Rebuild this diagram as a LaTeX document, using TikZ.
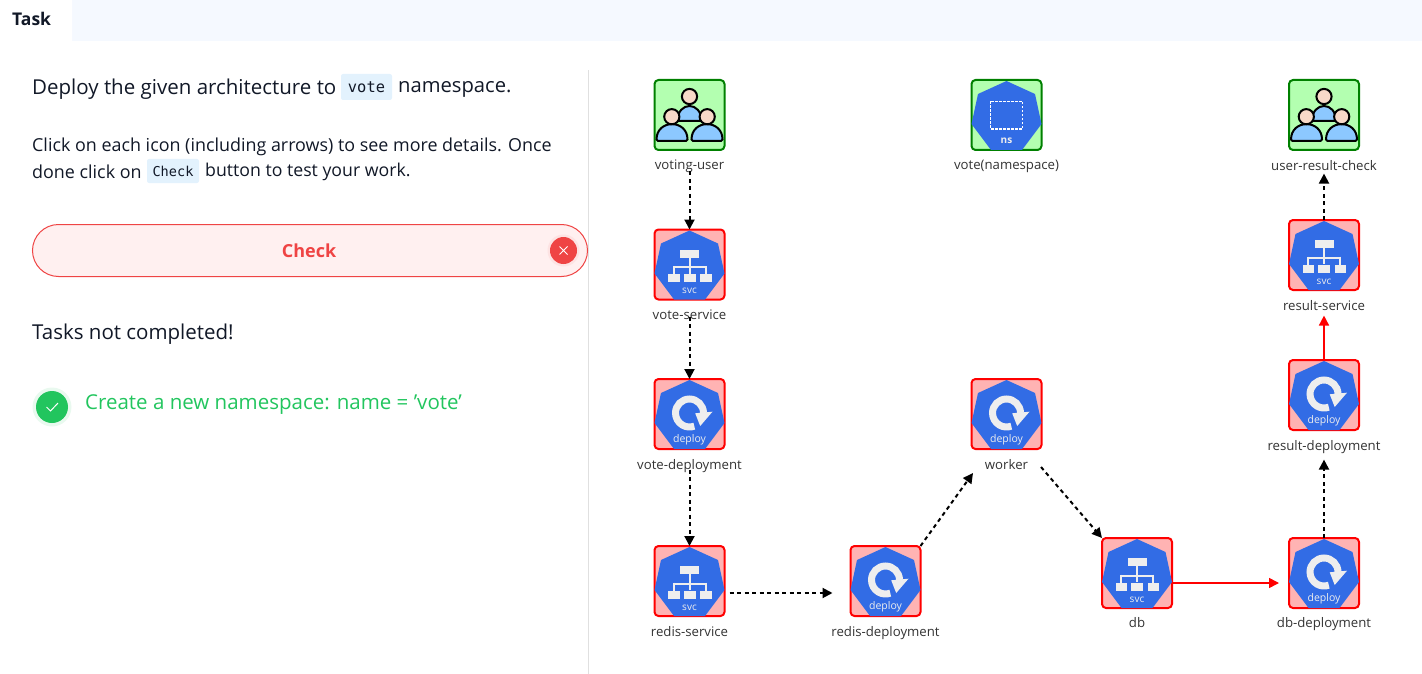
\documentclass[tikz,border=0pt]{standalone}
\usepackage{fontspec}
\setmainfont{Open Sans}
\setmonofont{DejaVu Sans Mono}
\usepackage{xcolor}
\usetikzlibrary{positioning,arrows.meta}

\definecolor{k8sblue}{HTML}{326CE5}
\definecolor{iconwhite}{HTML}{EEEEEE}
\definecolor{okfill}{HTML}{B3FFB0}
\definecolor{okline}{HTML}{008000}
\definecolor{badfill}{HTML}{FFB3B3}
\definecolor{failred}{HTML}{EF4444}
\definecolor{passgreen}{HTML}{22C55E}
\definecolor{inktext}{HTML}{111827}
\definecolor{tabbar}{HTML}{F5F9FF}
\definecolor{chipfill}{HTML}{E3F2FD}
\definecolor{bodyblue}{HTML}{8CC8FF}
\definecolor{headpink}{HTML}{F8D9C8}

\tikzset{
    heptagon/.pic={
        \fill[k8sblue] (0,-34) -- (28.5,-21) -- (35,9) -- (15.5,35) -- (-15.5,35) -- (-35,9) -- (-28.5,-21) -- cycle;
    },
    svcicon/.pic={
        \pic {heptagon};
        \draw[iconwhite, line width=2pt] (0,-9) -- (0,9) (-16,2.5) -- (16,2.5) (-16,1.5) -- (-16,10) (16,1.5) -- (16,10);
        \fill[iconwhite] (-9.5,-15) rectangle (9.5,-7);
        \fill[iconwhite] (-21.5,9.5) rectangle (-10,17.5);
        \fill[iconwhite] (-6,9.5) rectangle (6,17.5);
        \fill[iconwhite] (10.5,9.5) rectangle (22,17.5);
        \node[icontext] (svctext) at (0,26.5) {svc};
    },
    deployicon/.pic={
        \pic {heptagon};
        \draw[iconwhite, line width=7pt] (14,-1) arc[start angle=0, end angle=290, radius=14pt];
        \fill[iconwhite] (5.7,-0.7) -- (23,-2.3) -- (10.7,12) -- cycle;
        \node[icontext, font=\fontsize{10.5}{12}\selectfont] (deploytext) at (0,25.5) {deploy};
    },
    nsicon/.pic={
        \pic {heptagon};
        \draw[white, line width=1.7pt, dash pattern=on 2.5pt off 1.5pt] (-16,-13.5) rectangle (16,14);
        \node[icontext, font=\fontsize{10}{12}\selectfont\bfseries] (nstext) at (0,25.5) {ns};
    },
    usersicon/.pic={
        \begin{scope}[draw=black, line width=2pt]
            \filldraw[fill=bodyblue] (-12,6) .. controls (-12,-14) and (12,-14) .. (12,6) -- cycle;
            \filldraw[fill=headpink] (0,-18.5) circle (7.6pt);
            \filldraw[fill=bodyblue, rounded corners=1.5pt] (-33,26) .. controls (-33,4) and (-2,4) .. (-2,26) -- cycle;
            \filldraw[fill=bodyblue, rounded corners=1.5pt] (2,26) .. controls (2,4) and (33,4) .. (33,26) -- cycle;
            \filldraw[fill=headpink] (-17.7,1.7) circle (7.6pt);
            \filldraw[fill=headpink] (17.7,1.7) circle (7.6pt);
        \end{scope}
    }
}

\begin{document}
\begin{tikzpicture}[
    x=1pt, y=-1pt,
    icontext/.style={text=iconwhite, inner sep=0pt, font=\fontsize{10}{11}\selectfont},
    okbox/.style={rectangle, draw=okline, fill=okfill, line width=2pt, rounded corners=4pt, minimum size=70pt, inner sep=0pt, outer sep=0pt},
    badbox/.style={okbox, draw=red, fill=badfill},
    caption/.style={inner sep=0pt, text=black!80, font=\fontsize{13.2}{16}\selectfont},
    bodytext/.style={anchor=west, inner sep=0pt, text=inktext, font=\fontsize{20.5}{24}\selectfont},
    smalltext/.style={bodytext, font=\fontsize{17.9}{21}\selectfont},
    codechip/.style={rectangle, fill=chipfill, rounded corners=2pt, inner sep=0pt, text=inktext},
    dasharrow/.style={-{Triangle[length=10pt,width=10pt]}, line width=2pt, dash pattern=on 4pt off 3.5pt},
    redarrow/.style={-{Triangle[length=10pt,width=10pt]}, draw=red, line width=1.6pt}
]
    \useasboundingbox (0,0) rectangle (1422,674);

    % task panel
    \fill[tabbar] (60,0) rectangle (1422,41);
    \fill[white, rounded corners=4pt] (0,-8) rectangle (72,50);
    \node[bodytext, font=\fontsize{17.5}{20}\selectfont\bfseries] (tasktab) at (12,19) {Task};
    \draw[black!12] (588,70) coordinate (ruletop) -- (588,674);

    \node[bodytext] (deployline) at (32,89) {Deploy the given architecture to};
    \node[codechip, minimum width=51pt, minimum height=26pt, font=\fontsize{15.4}{18}\ttfamily] (votechip) at (366.5,87) {vote};
    \node[bodytext, font=\fontsize{20.2}{24}\selectfont] (nsword) at (398,89) {namespace.};
    \node[smalltext] (clickline) at (32,147) {Click on each icon (including arrows) to see more details. Once};
    \node[smalltext] (doneline) at (32,171.5) {done click on};
    \node[codechip, minimum width=52pt, minimum height=24pt, font=\fontsize{13.6}{16}\ttfamily] (checkchip) at (173,171) {Check};
    \node[smalltext, font=\fontsize{17.7}{21}\selectfont] (testline) at (205,171.5) {button to test your work.};

    \node[rectangle, draw=failred, line width=1pt, fill=red!6, rounded corners=26pt, minimum width=555pt, minimum height=52pt, inner sep=0pt] (checkbtn) at (310,250.5) {};
    \node[inner sep=0pt, text=failred, font=\fontsize{18}{22}\selectfont\bfseries] (checkword) at (309,251) {Check};
    \node[circle, fill=failred!15, minimum size=32pt, inner sep=0pt] (crosshalo) at (563.5,250.5) {};
    \node[circle, fill=failred, minimum size=27pt, inner sep=0pt] (crossdot) at (563.5,250.5) {};
    \draw[white, line width=1pt] (559.5,246.5) -- (567.5,254.5) (567.5,246.5) -- (559.5,254.5);

    \node[bodytext] (notdone) at (32,334) {Tasks not completed!};
    \node[circle, fill=passgreen!10, minimum size=39pt, inner sep=0pt] (tickhalo) at (52,407) {};
    \node[circle, fill=passgreen, minimum size=32pt, inner sep=0pt] (tickdot) at (52,407) {};
    \draw[white, line width=1pt] (46.5,407) -- (50.5,411) -- (58,403);
    \node[bodytext, text=passgreen] (nstask) at (85,405) {Create a new namespace: name = 'vote'};

    % left column
    \node[okbox] (voter) at (689.5,115) {};
    \node[badbox, below=79.5pt of voter] (votesvc) {};
    \node[badbox, below=79.5pt of votesvc] (votedep) {};
    \node[badbox, below=97pt of votedep] (redissvc) {};
    \node[badbox, right=126pt of redissvc] (redisdep) {};

    % middle and right columns
    \node[okbox] (nsbox) at (1006.5,115) {};
    \node[badbox] (worker) at (1006.5,414) {};
    \node[badbox] (dbsvc) at (1137,573) {};
    \node[badbox, right=117pt of dbsvc] (dbdep) {};
    \node[badbox, above=108pt of dbdep] (resultdep) {};
    \node[badbox, above=70pt of resultdep] (resultsvc) {};
    \node[okbox] (checker) at (1324,115) {};

    \pic at (voter) {usersicon};
    \pic at (checker) {usersicon};
    \pic at (nsbox) {nsicon};
    \pic at (votesvc) {svcicon};
    \pic at (redissvc) {svcicon};
    \pic at (dbsvc) {svcicon};
    \pic at (resultsvc) {svcicon};
    \pic at (votedep) {deployicon};
    \pic at (redisdep) {deployicon};
    \pic at (dbdep) {deployicon};
    \pic at (resultdep) {deployicon};
    \pic at (worker) {deployicon};

    \node[caption, below=10pt of voter] (voterlbl) {voting-user};
    \node[caption, below=10pt of nsbox] (nslbl) {vote(namespace)};
    \node[caption, below=10pt of checker] (checkerlbl) {user-result-check};
    \node[caption, below=10pt of votesvc] (votesvclbl) {vote-service};
    \node[caption, below=10pt of votedep] (votedeplbl) {vote-deployment};
    \node[caption, below=10.5pt of redissvc] (redissvclbl) {redis-service};
    \node[caption, below=10.5pt of redisdep] (redisdeplbl) {redis-deployment};
    \node[caption, below=10pt of worker] (workerlbl) {worker};
    \node[caption, below=9pt of dbsvc] (dbsvclbl) {db};
    \node[caption, below=9pt of dbdep] (dbdeplbl) {db-deployment};
    \node[caption, below=10pt of resultdep] (resultdeplbl) {result-deployment};
    \node[caption, below=10pt of resultsvc] (resultsvclbl) {result-service};

    \coordinate (workerin) at (973,473);
    \coordinate (workerout) at (1041,467);

    \draw[dasharrow] ([yshift=2pt]voterlbl.south) -- (votesvc.north);
    \draw[dasharrow] ([yshift=3pt]votesvclbl.south) -- (votedep.north);
    \draw[dasharrow] ([yshift=3pt]votedeplbl.south) -- (redissvc.north);
    \draw[dasharrow, shorten <=5pt, shorten >=18pt] (redissvc.east |- 0,593) -- (redisdep.west |- 0,593);
    \draw[dasharrow] (redisdep.north east) -- (workerin);
    \draw[dasharrow] (workerout) -- (dbsvc.north west);
    \draw[redarrow, shorten >=10pt] (dbsvc.east |- 0,583) -- (dbdep.west |- 0,583);
    \draw[dasharrow, shorten >=6pt] (dbdep.north) -- (resultdeplbl.south);
    \draw[redarrow, shorten >=5pt] (resultdep.north) -- (resultsvclbl.south);
    \draw[dasharrow, shorten >=3pt] (resultsvc.north) -- (checkerlbl.south);
\end{tikzpicture}
\end{document}
